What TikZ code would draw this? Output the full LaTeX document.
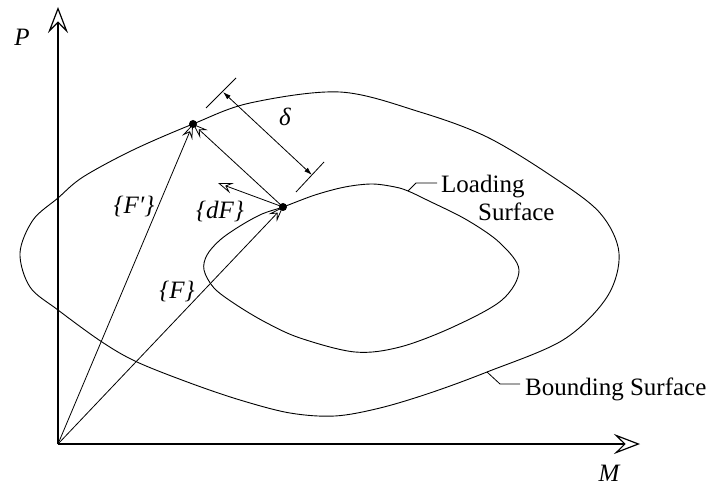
\documentclass[tikz,border=0pt]{standalone}
\usepackage{fontspec}
\setmainfont{Liberation Serif}
\usetikzlibrary{arrows.meta}
\begin{document}
\begin{tikzpicture}[x=1pt,y=-1pt,
  every node/.style={font=\fontsize{25}{30}\selectfont, inner sep=0pt},
  curve/.style={line width=0.9pt},
  axis/.style={line width=1.2pt, -{Stealth[open,length=26pt,width=20pt,inset=10pt]}},
  vec/.style={line width=0.8pt, -{Stealth[open,length=15pt,width=11pt,inset=6pt]}},
  dimline/.style={line width=0.8pt, {Latex[length=8pt,width=5pt]}-{Latex[length=8pt,width=5pt]}},
  lead/.style={line width=0.8pt},
  lbl/.style={font=\fontsize{25}{30}\selectfont\itshape}]
\useasboundingbox (0,0) rectangle (711,486);
% key points
\coordinate (O) at (58,444);
\coordinate (Ptop) at (58,7);
\coordinate (Mend) at (640,444);
\coordinate (A) at (193,124);
\coordinate (B) at (283,207);
\coordinate (dFt) at (218,183);
% axes
\draw[axis] (O) -- (Ptop);
\draw[axis] (O) -- (Mend);
% bounding surface
\draw[curve] plot[smooth cycle, tension=0.55] coordinates {
 (193,124) (250,103) (340,92) (420,112) (487,137) (553,177) (600,213)
 (619,253) (607,297) (563,340) (487,372) (430,393) (380,408) (335,416)
 (290,413) (240,400) (190,383) (137,362) (102,342) (58,310) (30,287)
 (20,253) (33,220) (58,198) (83,177) (133,150)};
% loading surface
\draw[curve] plot[smooth cycle, tension=0.55] coordinates {
 (283,207) (315,195) (345,187) (372,184) (395,187) (408,191) (427,200)
 (467,220) (500,243) (519,270) (502,300) (453,327) (400,347) (355,352)
 (300,338) (265,322) (235,304) (214,288) (204,270) (207,255) (220,240)
 (240,226) (262,214)};
% vectors
\draw[vec] (O) -- (A);
\draw[vec] (O) -- (B);
\draw[vec] (B) -- (A);
\draw[vec] (B) -- (dFt);
\fill (A) circle[radius=4];
\fill (B) circle[radius=4];
% dimension delta
\coordinate (d1) at (223,92);
\coordinate (d2) at (312,175);
\coordinate (t1a) at (206,108);
\coordinate (t1b) at (236,78);
\coordinate (t2a) at (296,192);
\coordinate (t2b) at (324,162);
\draw[lead] (t1a) -- (t1b);
\draw[lead] (t2a) -- (t2b);
\draw[dimline] (d1) -- (d2);
% labels
\node[lbl] (P) at (22,37) {P};
\node[lbl] (M) at (609,473) {M};
\node[lbl] (Fp) at (134,206) {\{F′\}};
\node[lbl] (dFl) at (220,211) {\{dF\}};
\node[lbl] (Fl) at (177,291) {\{F\}};
\node[lbl] (del) at (285,117) {δ};
% loading surface label
\node[anchor=base west] (lo1) at (441,193) {Loading};
\node[anchor=base west] (lo2) at (478,220) {Surface};
\coordinate (lc1) at (408,191);
\coordinate (lc2) at (416,183);
\coordinate (lc3) at (437,183);
\draw[lead] (lc1) -- (lc2) -- (lc3);
% bounding surface label
\node[anchor=base west] (bs) at (525,395) {Bounding Surface};
\coordinate (bc1) at (487,372);
\coordinate (bc2) at (500,384);
\coordinate (bc3) at (520,384);
\draw[lead] (bc1) -- (bc2) -- (bc3);
\end{tikzpicture}
\end{document}
